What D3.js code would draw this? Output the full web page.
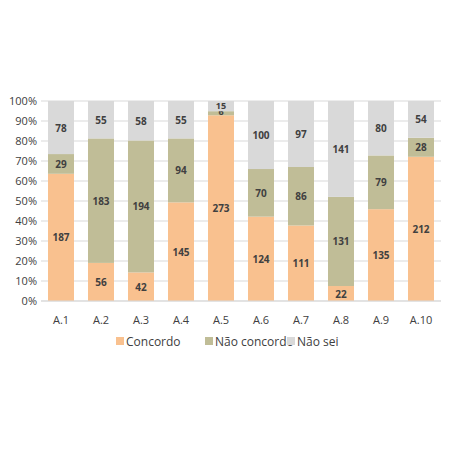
<!DOCTYPE html><html><head><script src="https://cdn.jsdelivr.net/npm/d3@7"></script>
<style>body{margin:0;background:#fff}text{font-family:"Open Sans",sans-serif}</style></head><body>
<svg id="c" width="450" height="450"></svg>
<script>
const categories=["A.1","A.2","A.3","A.4","A.5","A.6","A.7","A.8","A.9","A.10"];
const concordo=[187,56,42,145,273,124,111,22,135,212];
const naoConcordo=[29,183,194,94,6,70,86,131,79,28];
const naoSei=[78,55,58,55,15,100,97,141,80,54];
const seriesNames=["Concordo","Não concordo","Não sei"];
const colors=["#F9C18F","#C0BD97","#D9D9D9"];
const yTicks=[0,0.1,0.2,0.3,0.4,0.5,0.6,0.7,0.8,0.9,1];
const svg=d3.select("#c");
const x=d3.scaleBand().domain(categories).range([41,441]).paddingInner(0.35).paddingOuter(0.175);
const y=d3.scaleLinear().domain([0,1]).range([301,101]);
svg.append("g").selectAll("line").data(yTicks).join("line").attr("x1",41).attr("x2",441)
 .attr("y1",d=>y(d)).attr("y2",d=>y(d)).attr("stroke","#D9D9D9");
svg.append("g").selectAll("text").data(yTicks).join("text").attr("x",37).attr("y",d=>y(d)+4)
 .attr("text-anchor","end").attr("font-size",11).attr("fill","#404040").text(d=>Math.round(d*100)+"%");
const data=categories.map((c,i)=>({c,v:[concordo[i],naoConcordo[i],naoSei[i]]}));
data.forEach(d=>{const t=d3.sum(d.v);let acc=0;
 d.v.forEach((v,k)=>{const y0=acc/t,y1=(acc+v)/t;acc+=v;
  svg.append("rect").attr("x",x(d.c)).attr("width",x.bandwidth()).attr("y",y(y1)).attr("height",y(y0)-y(y1)).attr("fill",colors[k]);
  let ly=(y(y0)+y(y1))/2+4, fs=10;
  if(d.c==="A.5"&&k===1){ly=y(y1)+4;fs=9;}
  if(d.c==="A.5"&&k===2){ly=y(1)+8;fs=9;}
  svg.append("text").attr("x",x(d.c)+x.bandwidth()/2).attr("y",ly).attr("text-anchor","middle")
   .attr("font-size",fs).attr("font-weight","bold").attr("fill","#404040").text(v);
 });});
svg.append("line").attr("x1",41).attr("x2",441).attr("y1",301).attr("y2",301).attr("stroke","#D9D9D9");
svg.append("g").selectAll("text").data(categories).join("text").attr("x",d=>x(d)+x.bandwidth()/2).attr("y",324)
 .attr("text-anchor","middle").attr("font-size",11).attr("fill","#404040").text(d=>d);
const lx=[116,205,287];
seriesNames.forEach((n,k)=>{svg.append("rect").attr("x",lx[k]).attr("y",337).attr("width",8).attr("height",8).attr("fill",colors[k]);
 svg.append("text").attr("x",lx[k]+10).attr("y",346).attr("font-size",12).attr("fill","#404040").text(n);});
</script></body></html>
